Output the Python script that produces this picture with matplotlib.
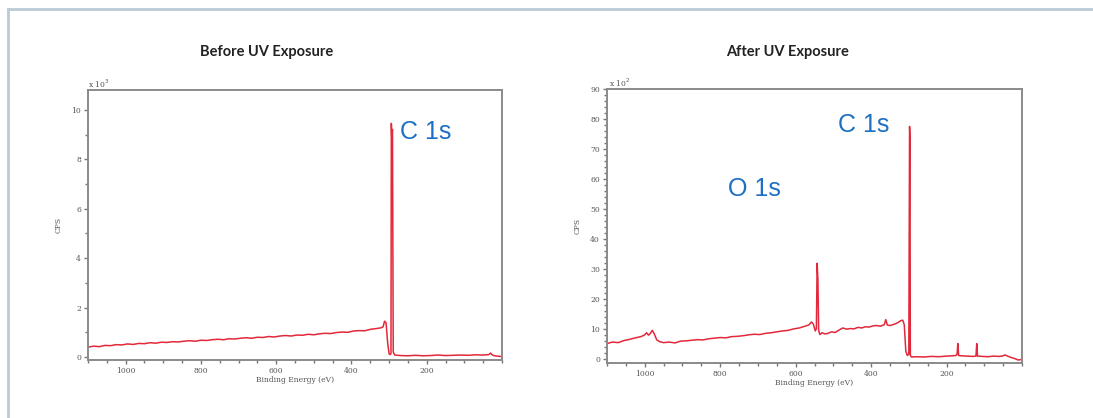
import matplotlib
matplotlib.use("Agg")
import numpy as np
from matplotlib import pyplot as plt
from matplotlib.lines import Line2D
from matplotlib.ticker import MultipleLocator

# Before UV exposure (counts x 10^3)
before_e = [1100, 1085, 1070, 1055, 1040, 1025, 1010, 995, 980, 965, 950, 935, 920, 905, 890,
            875, 860, 845, 830, 815, 800, 785, 770, 755, 740, 725, 710, 695, 680, 665,
            650, 635, 620, 605, 590, 575, 560, 545, 530, 515, 500, 485, 470, 455, 440,
            425, 410, 395, 380, 365, 350, 340, 330, 322, 316, 312, 308, 304, 300, 297,
            295, 294, 293, 291, 289, 285, 270, 250, 230, 210, 190, 170, 150, 130, 110,
            90, 70, 50, 35, 30, 27, 22, 15, 8, 2]
before_c = [0.40, 0.44, 0.42, 0.47, 0.46, 0.50, 0.49, 0.53, 0.51, 0.55, 0.54, 0.58, 0.56, 0.60, 0.59,
            0.62, 0.61, 0.64, 0.66, 0.64, 0.68, 0.67, 0.70, 0.72, 0.70, 0.74, 0.73, 0.76, 0.78, 0.76,
            0.80, 0.79, 0.83, 0.81, 0.85, 0.87, 0.85, 0.89, 0.88, 0.92, 0.90, 0.94, 0.96, 0.95, 0.99,
            1.01, 1.00, 1.05, 1.07, 1.06, 1.12, 1.14, 1.16, 1.18, 1.22, 1.45, 1.38, 0.60, 0.12, 0.10,
            0.15, 9.45, 8.90, 9.20, 0.20, 0.08, 0.06, 0.05, 0.07, 0.05, 0.06, 0.08, 0.06, 0.07, 0.08,
            0.07, 0.09, 0.08, 0.10, 0.16, 0.10, 0.06, 0.04, 0.03, 0.02]

# After UV exposure (counts x 10^2)
after_e = [1100, 1085, 1070, 1055, 1040, 1025, 1010, 1000, 995, 990, 985, 980, 975, 968, 960,
           950, 935, 920, 905, 890, 875, 860, 845, 830, 815, 800, 785, 770, 755, 740,
           725, 710, 695, 680, 665, 650, 635, 620, 605, 590, 575, 565, 558, 553, 548,
           545, 543, 541, 539, 536, 530, 522, 515, 505, 495, 485, 475, 465, 455, 445,
           435, 425, 415, 405, 395, 385, 375, 365, 361, 357, 350, 340, 330, 322, 316,
           312, 308, 304, 300, 298, 297, 296, 293, 280, 260, 240, 220, 200, 185, 175,
           172, 170, 168, 160, 145, 130, 122, 120, 118, 105, 90, 75, 60, 50, 45,
           40, 30, 20, 10, 0]
after_c = [5.0, 5.5, 5.3, 6.0, 6.4, 6.9, 7.3, 7.9, 8.6, 7.8, 8.4, 9.4, 8.3, 6.2, 5.6,
           5.3, 5.5, 5.2, 5.8, 5.9, 6.1, 6.3, 6.2, 6.6, 6.8, 7.0, 6.9, 7.3, 7.4, 7.6,
           7.9, 8.1, 8.0, 8.4, 8.6, 8.9, 9.2, 9.4, 9.9, 10.2, 10.8, 11.2, 12.2, 11.5, 9.2,
           10.0, 31.8, 26.5, 9.5, 8.0, 8.6, 8.2, 8.4, 8.9, 8.7, 9.5, 10.2, 9.8, 10.0, 9.9,
           10.4, 10.2, 10.6, 10.5, 10.9, 11.0, 10.8, 11.3, 13.0, 11.2, 11.0, 11.4, 11.9, 12.6, 12.8,
           11.2, 2.5, 1.0, 1.5, 77.5, 74.0, 1.0, 0.5, 0.6, 0.5, 0.7, 0.6, 0.8, 0.9, 1.0,
           1.5, 5.0, 1.0, 0.9, 0.8, 0.7, 0.8, 5.0, 0.8, 0.7, 0.6, 0.8, 0.7, 0.9, 1.2,
           0.9, 0.4, 0.0, -0.5, -0.3]

line_red = "#e2283a"
label_blue = "#1c6fc2"
tick_font = {"family": "DejaVu Serif", "size": 5.5, "color": "#555555"}

fig = plt.figure(figsize=(10.93, 4.18), dpi=100)

# light frame on top and left of the picture
fig.add_artist(Line2D([8/1093, 1], [1 - 9/418, 1 - 9/418], color="#b9cbd6", lw=2,
                      transform=fig.transFigure))
fig.add_artist(Line2D([8/1093, 8/1093], [0, 1 - 9/418], color="#b9cbd6", lw=2,
                      transform=fig.transFigure))

ax1 = fig.add_axes([88/1093, 58/418, 414/1093, 270/418])
ax2 = fig.add_axes([607/1093, 55/418, 415/1093, 274/418])


def style(ax, ymaj, ymin):
    ax.set_xlim(1100, 0)
    ax.xaxis.set_major_locator(MultipleLocator(200))
    ax.xaxis.set_minor_locator(MultipleLocator(50))
    ax.yaxis.set_major_locator(MultipleLocator(ymaj))
    ax.yaxis.set_minor_locator(MultipleLocator(ymin))
    for s in ax.spines.values():
        s.set_color("#8a8a8a")
        s.set_linewidth(1.4)
    ax.tick_params(which="both", direction="out", colors="#777777", width=1, pad=2)
    ax.tick_params(which="major", length=3)
    ax.tick_params(which="minor", length=2)
    for lab in ax.get_xticklabels() + ax.get_yticklabels():
        lab.set_fontfamily("DejaVu Serif")
        lab.set_fontsize(5.5)
        lab.set_color("#555555")
    ax.set_xlabel("Binding Energy (eV)", fontdict=tick_font, labelpad=1)
    ax.set_ylabel("CPS", fontdict=tick_font, labelpad=6)


ax1.plot(before_e, before_c, color=line_red, lw=1.1)
ax1.set_ylim(-0.12, 10.8)
style(ax1, 2, 1)
ax1.set_xticks([1000, 800, 600, 400, 200])
ax1.set_yticks([0, 2, 4, 6, 8, 10])
ax1.set_xticklabels(["1000", "800", "600", "400", "200"], fontdict=tick_font)
ax1.set_yticklabels(["0", "2", "4", "6", "8", "10"], fontdict=tick_font)
ax1.text(0, 1.0, r"x 10$^3$", transform=ax1.transAxes, ha="left", va="bottom",
         fontdict=tick_font)
ax1.text(272, 9.1, "C 1s", color=label_blue, fontsize=18, family="Liberation Sans",
         ha="left", va="center")

ax2.plot(after_e, after_c, color=line_red, lw=1.1)
ax2.set_ylim(-1.5, 90)
style(ax2, 10, 2)
ax2.set_xticks([1000, 800, 600, 400, 200])
ax2.set_yticks(list(range(0, 100, 10)))
ax2.set_xticklabels(["1000", "800", "600", "400", "200"], fontdict=tick_font)
ax2.set_yticklabels([str(v) for v in range(0, 100, 10)], fontdict=tick_font)
ax2.text(0.005, 1.0, r"x 10$^2$", transform=ax2.transAxes, ha="left", va="bottom",
         fontdict=tick_font)
ax2.text(489, 78, "C 1s", color=label_blue, fontsize=18, family="Liberation Sans",
         ha="left", va="center")
ax2.text(780, 56.5, "O 1s", color=label_blue, fontsize=18, family="Liberation Sans",
         ha="left", va="center")

fig.text(267/1093, 1 - 52/418, "Before UV Exposure", ha="center", va="center",
         fontsize=10.5, fontweight="bold", family="Lato", color="#222222")
fig.text(788/1093, 1 - 52/418, "After UV Exposure", ha="center", va="center",
         fontsize=10.5, fontweight="bold", family="Lato", color="#222222")

fig.savefig("out.png", dpi=100)
